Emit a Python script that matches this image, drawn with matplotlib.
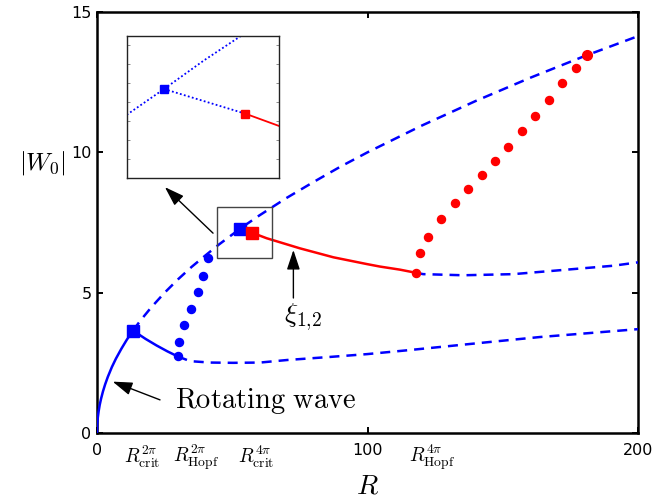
import matplotlib
matplotlib.use("Agg")
import matplotlib.pyplot as plt
from matplotlib.patches import Rectangle

plt.rcParams['mathtext.fontset'] = 'cm'
plt.rcParams['font.family'] = ['DejaVu Sans']

# ---------------- data ----------------
# rotating wave (stable, solid blue)
rw_R = [0, 0.1, 0.3, 0.6, 1.0, 1.5, 2.2, 3.0, 4.0, 5.5, 7.0, 9.0, 11.0, 13.3]
rw_W = [0, 0.32, 0.55, 0.77, 1.00, 1.22, 1.48, 1.73, 2.00, 2.35, 2.65, 3.00, 3.32, 3.65]

# upper unstable branch (dashed blue)
up_R = [13.3, 16, 20, 25, 30, 35, 40, 45, 50, 52.9, 55, 60, 70, 80, 90, 100, 120, 140, 160, 180, 200]
up_W = [3.65, 4.00, 4.47, 5.00, 5.48, 5.92, 6.32, 6.71, 7.07, 7.27, 7.42, 7.75, 8.37, 8.94, 9.49,
        10.00, 10.95, 11.83, 12.65, 13.42, 14.14]

# stable 2pi branch from R_crit^{2pi} to R_Hopf^{2pi} (solid blue)
s2_R = [13.3, 18, 22, 26, 29.8]
s2_W = [3.65, 3.35, 3.12, 2.91, 2.73]

# unstable continuation after Hopf 2pi (dashed blue)
u2_R = [29.8, 34.4, 41.8, 50.3, 60.3, 70.2, 86.1, 99.8, 115, 130.5, 147, 163.8, 182, 200]
u2_W = [2.73, 2.56, 2.51, 2.50, 2.51, 2.60, 2.71, 2.81, 2.95, 3.10, 3.26, 3.42, 3.56, 3.70]

# periodic orbit amplitude after Hopf 2pi (blue dots)
h2_R = [29.8, 30.4, 32.2, 34.8, 37.3, 39.1, 40.9]
h2_W = [2.73, 3.25, 3.86, 4.42, 5.02, 5.59, 6.24]

# segment between R_crit^{4pi} and the red square (dotted blue, seen in the inset)
seg_R = [52.9, 57.2]
seg_W = [7.27, 7.14]

# xi_{1,2} branch (solid red)
xi_R = [57.2, 62.7, 75.0, 87.4, 99.7, 104.6, 112.0, 117.8]
xi_W = [7.14, 6.94, 6.58, 6.26, 6.02, 5.93, 5.82, 5.71]

# unstable after Hopf 4pi (dashed blue)
u4_R = [117.8, 120.6, 135.4, 153.9, 172.4, 190.9, 200]
u4_W = [5.71, 5.66, 5.62, 5.66, 5.81, 5.96, 6.08]

# periodic orbit after Hopf 4pi (red dots)
h4_R = [117.8, 119.4, 122.4, 127.3, 132.3, 137.3, 142.2, 147.1, 152.1, 157.1, 162.0, 167.1, 172.0, 177.1]
h4_W = [5.71, 6.40, 6.97, 7.63, 8.20, 8.70, 9.20, 9.69, 10.20, 10.75, 11.29, 11.86, 12.46, 13.01]
h4_end_R = [181.0]
h4_end_W = [13.48]

# special points
crit2_R, crit2_W = [13.3], [3.65]
crit4_R, crit4_W = [52.9], [7.27]
red_sq_R, red_sq_W = [57.2], [7.14]

# tick labels
xticks = [0, 100, 200]
xtick_labels = ['0', '100', '200']
yticks = [0, 5, 10, 15]
ytick_labels = ['0', '5', '10', '15']
special_x = [16.6, 36.6, 58.8, 123.8]
special_labels = [r'$R^{2\pi}_{\rm crit}$', r'$R^{2\pi}_{\rm Hopf}$',
                  r'$R^{4\pi}_{\rm crit}$', r'$R^{4\pi}_{\rm Hopf}$']

BLUE = '#0000ff'
RED = '#ff0000'

W_px, H_px = 656, 501
fig = plt.figure(figsize=(W_px / 100, H_px / 100), dpi=100)
ax = fig.add_axes([97 / W_px, (H_px - 433) / H_px, 541 / W_px, 421 / H_px])

dash = (4.0, 2.8)
lw = 1.8
ax.plot(rw_R, rw_W, color=BLUE, lw=lw, zorder=3)
ax.plot(up_R, up_W, color=BLUE, lw=lw, dashes=dash, zorder=3)
ax.plot(s2_R, s2_W, color=BLUE, lw=lw, zorder=3)
ax.plot(u2_R, u2_W, color=BLUE, lw=lw, dashes=dash, zorder=3)
ax.plot(u4_R, u4_W, color=BLUE, lw=lw, dashes=dash, zorder=3)
ax.plot(seg_R, seg_W, color=BLUE, lw=lw, dashes=dash, zorder=3)
ax.plot(xi_R, xi_W, color=RED, lw=lw, zorder=3)
ax.plot(h2_R, h2_W, 'o', color=BLUE, ms=5.8, mec=BLUE, zorder=4)
ax.plot(h4_R, h4_W, 'o', color=RED, ms=5.8, mec=RED, zorder=4)
ax.plot(h4_end_R, h4_end_W, 'o', color=RED, ms=7, mec=RED, zorder=4)
ax.plot(crit2_R, crit2_W, 's', color=BLUE, ms=8.5, mec=BLUE, zorder=5)
ax.plot(crit4_R, crit4_W, 's', color=BLUE, ms=8.5, mec=BLUE, zorder=5)
ax.plot(red_sq_R, red_sq_W, 's', color=RED, ms=8.5, mec=RED, zorder=6)

ax.set_xlim(0, 200)
ax.set_ylim(0, 15)
ax.set_xticks(xticks)
ax.set_xticklabels(xtick_labels)
ax.set_yticks(yticks)
ax.set_yticklabels(ytick_labels)
ax.tick_params(direction='in', top=True, right=True, length=4, width=1.4,
               labelsize=11.5, colors='k')
ax.tick_params(axis='x', pad=7)
ax.tick_params(axis='y', pad=4)
for s in ax.spines.values():
    s.set_linewidth(1.8)

for x, lab in zip(special_x, special_labels):
    ax.annotate(lab, xy=(x, 0), xycoords=('data', 'axes fraction'),
                xytext=(0, -24), textcoords='offset pixels',
                ha='center', va='center', fontsize=14)

ax.text(0.5, -0.143, r'$R$', transform=ax.transAxes, ha='center', va='baseline', fontsize=20)
fig.text(42 / W_px, 1 - 163 / H_px, r'$|W_0|$', ha='center', va='center', fontsize=18)

# zoom box
ax.add_patch(Rectangle((44.4, 6.24), 20.3, 1.81, fill=False, lw=1.0, ec='#444444', zorder=6))

arrow = dict(arrowstyle='-|>,head_length=0.6,head_width=0.2', color='k', lw=1.0,
             mutation_scale=20, shrinkA=0, shrinkB=0)
ax.annotate('', xy=(25.1, 8.76), xytext=(42.9, 7.12), arrowprops=arrow)
ax.annotate('', xy=(72.6, 6.52), xytext=(72.6, 4.81), arrowprops=arrow)
ax.annotate('', xy=(5.8, 1.83), xytext=(23.3, 1.18), arrowprops=arrow)
ax.text(76.2, 4.13, r'$\xi_{1{,}2}$', ha='center', va='center', fontsize=20)
ax.text(28.8, 0.89, r'$\mathrm{Rotating\ wave}$', ha='left', va='baseline', fontsize=20.5)

# inset
ins = fig.add_axes([127 / W_px, (H_px - 178) / H_px, 152 / W_px, 142 / H_px])
ins.plot(up_R, up_W, color=BLUE, lw=1.3, ls=(0, (1, 1.3)))
ins.plot(seg_R, seg_W, color=BLUE, lw=1.3, ls=(0, (1, 1.3)))
ins.plot(xi_R, xi_W, color=RED, lw=1.3)
ins.plot(crit4_R, crit4_W, 's', color=BLUE, ms=6, mec=BLUE)
ins.plot(red_sq_R, red_sq_W, 's', color=RED, ms=6, mec=RED)
ins.set_xlim(50.94, 58.99)
ins.set_ylim(6.80, 7.55)
ins.set_yticks([6.9, 7.0, 7.1, 7.2, 7.3, 7.4, 7.5])
ins.set_xticks([])
ins.tick_params(direction='in', left=True, right=True, length=2, width=0.6,
                colors='#777777', labelleft=False)
for s in ins.spines.values():
    s.set_linewidth(1.0)
    s.set_color('#222222')

fig.savefig('out.png', dpi=100)
